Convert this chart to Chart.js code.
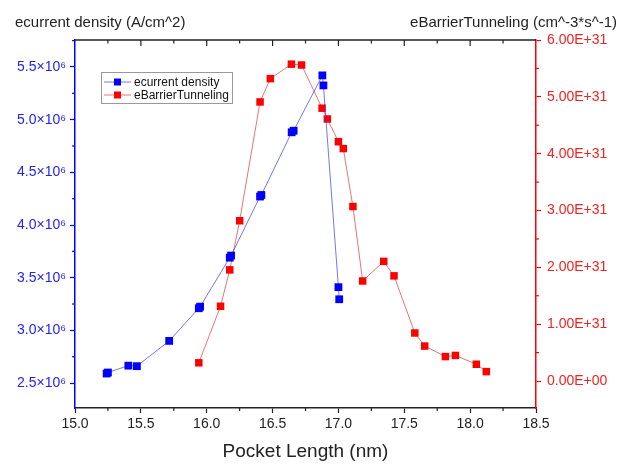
<!DOCTYPE html>
<html>
<head>
  <title>Pocket Length sweep</title>
  <script src="https://cdn.jsdelivr.net/npm/chart.js"></script>
  <style>
    body { margin: 0; background: white; }
    #wrap { width: 621px; height: 466px; }
  </style>
</head>
<body>
  <div id="wrap"><canvas id="chart" width="621" height="466"></canvas></div>
  <script>
    // ecurrent density, left axis (A/cm^2)
    const currentX = [15.24, 15.25, 15.405, 15.47, 15.715, 15.94, 15.95, 16.175, 16.185, 16.405, 16.415, 16.645, 16.66, 16.878, 16.886, 17.0, 17.006];
    const currentY = [2.59e6, 2.60e6, 2.665e6, 2.66e6, 2.90e6, 3.21e6, 3.225e6, 3.69e6, 3.71e6, 4.27e6, 4.285e6, 4.88e6, 4.895e6, 5.42e6, 5.325e6, 3.41e6, 3.295e6];

    // eBarrierTunneling, right axis (cm^-3*s^-1)
    const tunnelX = [15.94, 16.105, 16.175, 16.25, 16.405, 16.483, 16.643, 16.72, 16.876, 16.916, 17.0, 17.037, 17.11, 17.184, 17.344, 17.422, 17.58, 17.655, 17.812, 17.888, 18.047, 18.123];
    const tunnelY = [0.32e31, 1.315e31, 1.955e31, 2.82e31, 4.91e31, 5.32e31, 5.575e31, 5.56e31, 4.80e31, 4.61e31, 4.21e31, 4.09e31, 3.07e31, 1.76e31, 2.105e31, 1.85e31, 0.845e31, 0.615e31, 0.43e31, 0.45e31, 0.295e31, 0.165e31];

    // tick values
    const xTicks = [15.0, 15.5, 16.0, 16.5, 17.0, 17.5, 18.0, 18.5];
    const leftTicks = [2.5e6, 3.0e6, 3.5e6, 4.0e6, 4.5e6, 5.0e6, 5.5e6];
    const rightTicks = [0, 1e31, 2e31, 3e31, 4e31, 5e31, 6e31];

    const leftTitle = 'ecurrent density (A/cm^2)';
    const rightTitle = 'eBarrierTunneling (cm^-3*s^-1)';
    const xTitle = 'Pocket Length (nm)';

    const FONT = '"Liberation Sans", Arial, sans-serif';
    const BLUE = '#0000ff', RED = '#ff0000';
    const BLUE_TXT = '#2323f0', RED_TXT = '#f02323';

    function toPoints(xs, ys) {
      return xs.map((x, i) => ({ x: x, y: ys[i] }));
    }

    function sciLabel(v) {
      if (Math.abs(v) < 1e29) v = 0;
      const parts = v.toExponential(2).split('e');
      const n = parseInt(parts[1], 10);
      return parts[0] + 'E' + (n < 0 ? '-' : '+') + String(Math.abs(n)).padStart(2, '0');
    }

    // extra axis bits: titles on top, top frame, minor ticks, legend box
    const decor = {
      id: 'decor',
      afterDraw(chart) {
        const { ctx, chartArea: a, scales } = chart;
        const seg = (x1, y1, x2, y2) => { ctx.beginPath(); ctx.moveTo(x1, y1); ctx.lineTo(x2, y2); ctx.stroke(); };
        ctx.save();

        ctx.font = '15px ' + FONT;
        ctx.fillStyle = '#222';
        ctx.textBaseline = 'middle';
        ctx.textAlign = 'left';
        ctx.fillText(leftTitle, 15, 23);
        ctx.textAlign = 'right';
        ctx.fillText(rightTitle, 617, 23);

        // top frame with inward ticks
        ctx.strokeStyle = '#222';
        ctx.lineWidth = 1.5;
        seg(a.left, a.top, a.right, a.top);
        ctx.lineWidth = 1.2;
        for (let i = 1; i < 14; i++) {
          const px = scales.x.getPixelForValue(15 + i * 0.25);
          seg(px, a.top, px, a.top + (i % 2 ? 3.5 : 6));
        }
        // bottom minor ticks
        for (let i = 0; i < 7; i++) {
          const px = scales.x.getPixelForValue(15.25 + i * 0.5);
          seg(px, a.bottom, px, a.bottom + 3);
        }
        // left minor ticks
        ctx.strokeStyle = BLUE;
        for (let v = 2.75e6; v < scales.y.max; v += 0.5e6) {
          const py = scales.y.getPixelForValue(v);
          seg(a.left, py, a.left - 3, py);
        }
        // right minor ticks
        ctx.strokeStyle = RED;
        for (let v = 0.5e31; v < scales.y2.max; v += 1e31) {
          const py = scales.y2.getPixelForValue(v);
          seg(a.right, py, a.right + 3, py);
        }

        // legend
        ctx.strokeStyle = '#999';
        ctx.lineWidth = 1;
        ctx.strokeRect(101.5, 72.5, 131, 31);
        ctx.font = '12px ' + FONT;
        ctx.textAlign = 'left';
        chart.data.datasets.forEach((ds, i) => {
          const y = 82 + i * 13;
          ctx.strokeStyle = ds.borderColor;
          ctx.lineWidth = 1;
          seg(104, y, 131, y);
          ctx.fillStyle = ds.pointBackgroundColor;
          ctx.fillRect(114, y - 3.5, 7, 7);
          ctx.fillStyle = '#111';
          ctx.fillText(ds.label, 134, y + 0.5);
        });

        ctx.restore();
      }
    };

    new Chart(document.getElementById('chart'), {
      type: 'scatter',
      data: {
        datasets: [
          {
            label: 'ecurrent density',
            data: toPoints(currentX, currentY),
            yAxisID: 'y',
            showLine: true,
            borderColor: 'rgba(60,60,230,0.7)',
            borderWidth: 1,
            pointStyle: 'rect',
            pointRadius: 5.5,
            pointBorderWidth: 0,
            pointBackgroundColor: BLUE,
            pointBorderColor: BLUE,
            order: 1
          },
          {
            label: 'eBarrierTunneling',
            data: toPoints(tunnelX, tunnelY),
            yAxisID: 'y2',
            showLine: true,
            borderColor: 'rgba(220,60,60,0.7)',
            borderWidth: 1,
            pointStyle: 'rect',
            pointRadius: 5.3,
            pointBorderWidth: 0,
            pointBackgroundColor: RED,
            pointBorderColor: RED,
            order: 2
          }
        ]
      },
      options: {
        responsive: false,
        animation: false,
        layout: { padding: { top: 40, left: 0, right: 0, bottom: 0 } },
        plugins: {
          legend: { display: false },
          tooltip: { enabled: false }
        },
        scales: {
          x: {
            type: 'linear',
            min: 15,
            max: 18.5,
            afterFit: s => { s.height = 58; },
            afterBuildTicks: s => { s.ticks = xTicks.map(v => ({ value: v })); },
            ticks: {
              callback: v => v.toFixed(1),
              font: { family: FONT, size: 14 },
              color: '#222',
              padding: 3,
              maxRotation: 0
            },
            grid: { drawOnChartArea: false, tickLength: 5, tickWidth: 1.2, tickColor: '#222' },
            border: { color: '#222', width: 1.5 },
            title: {
              display: true,
              text: xTitle,
              font: { family: FONT, size: 19 },
              color: '#222',
              padding: { top: 0, bottom: 3 }
            }
          },
          y: {
            position: 'left',
            min: 2.263e6,
            max: 5.756e6,
            afterFit: s => { s.width = 75; },
            afterBuildTicks: s => { s.ticks = leftTicks.map(v => ({ value: v })); },
            ticks: {
              callback: v => (v / 1e6).toFixed(1) + '×10⁶',
              font: { family: FONT, size: 14 },
              color: BLUE_TXT,
              padding: 4
            },
            grid: { drawOnChartArea: false, tickLength: 5, tickWidth: 1.2, tickColor: BLUE },
            border: { color: BLUE, width: 1.5 }
          },
          y2: {
            position: 'right',
            min: -0.475e31,
            max: 6e31,
            afterFit: s => { s.width = 85; },
            afterBuildTicks: s => { s.ticks = rightTicks.map(v => ({ value: v })); },
            ticks: {
              callback: v => sciLabel(v),
              font: { family: FONT, size: 14 },
              color: RED_TXT,
              padding: 6
            },
            grid: { drawOnChartArea: false, tickLength: 5, tickWidth: 1.2, tickColor: RED },
            border: { color: RED, width: 1.5 }
          }
        }
      },
      plugins: [decor]
    });
  </script>
</body>
</html>
